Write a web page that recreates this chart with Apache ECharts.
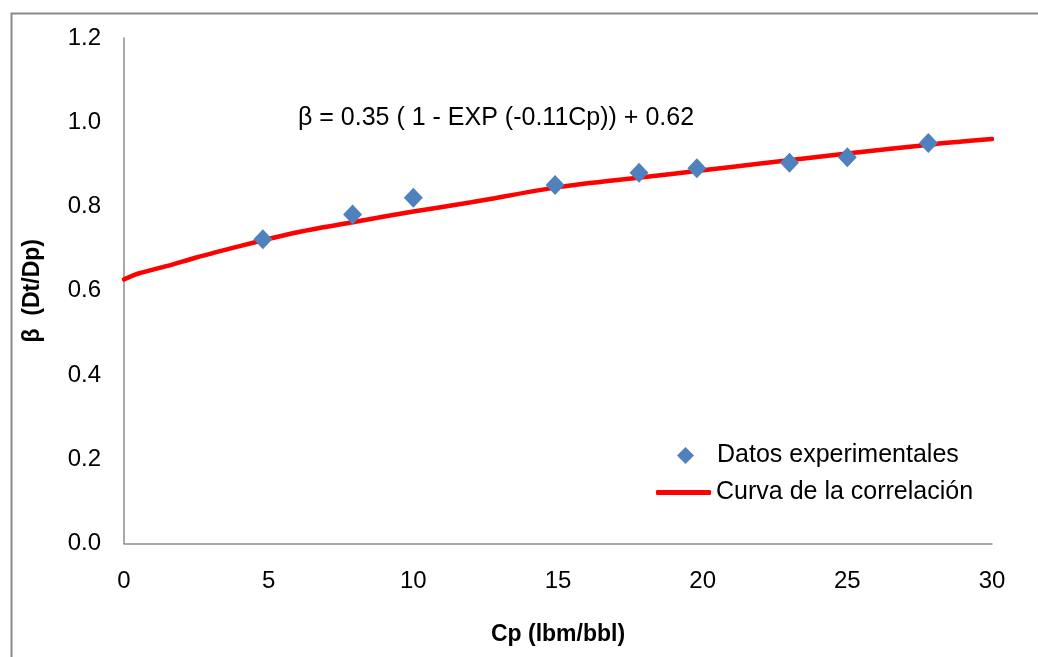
<!DOCTYPE html>
<html>
<head>
<meta charset="utf-8">
<script src="https://cdn.jsdelivr.net/npm/echarts@6/dist/echarts.min.js"></script>
<style>
  html, body { margin: 0; padding: 0; background: #fff; }
  #chart { width: 1038px; height: 657px; }
</style>
</head>
<body>
<div id="chart"></div>
<script>
// measured points (Cp, beta)
const expCp = [4.8, 7.9, 10.0, 14.9, 17.8, 19.8, 23.0, 25.0, 27.8];
const expBeta = [0.722, 0.781, 0.821, 0.851, 0.880, 0.891, 0.904, 0.917, 0.951];

// correlation curve
const curveCp = [0, 0.5, 1.5, 2.5, 4, 5, 6, 8, 10, 12, 15, 18, 20, 22, 25, 28, 30];
const curveBeta = [0.627, 0.641, 0.659, 0.679, 0.706, 0.723, 0.739, 0.764, 0.788, 0.810, 0.846, 0.870, 0.886, 0.902, 0.926, 0.948, 0.960];

const xTicks = [0, 5, 10, 15, 20, 25, 30];
const yTicks = [0.0, 0.2, 0.4, 0.6, 0.8, 1.0, 1.2];

const FONT = "'Liberation Sans', Arial, sans-serif";
const AXIS_GREY = "#8c8c8c";

const chart = echarts.init(document.getElementById("chart"));
chart.setOption({
  animation: false,
  textStyle: { fontFamily: FONT },
  grid: { left: 124, right: 46, top: 38, bottom: 113.5 },
  xAxis: {
    type: "value", min: xTicks[0], max: xTicks[xTicks.length - 1], interval: 5,
    name: "Cp (lbm/bbl)", nameLocation: "middle", nameGap: 80,
    nameTextStyle: { fontFamily: FONT, fontSize: 23, fontWeight: "bold", color: "#000" },
    axisLine: { lineStyle: { color: AXIS_GREY, width: 1.5 } },
    axisTick: { show: false }, splitLine: { show: false },
    axisLabel: { color: "#000", fontSize: 24, margin: 26, fontFamily: FONT }
  },
  yAxis: {
    type: "value", min: yTicks[0], max: yTicks[yTicks.length - 1], interval: 0.2,
    name: "β  (Dt/Dp)", nameLocation: "middle", nameGap: 80, nameRotate: 90,
    nameTextStyle: { fontFamily: FONT, fontSize: 23, fontWeight: "bold", color: "#000" },
    axisLine: { show: true, lineStyle: { color: AXIS_GREY, width: 1.5 } },
    axisTick: { show: false }, splitLine: { show: false },
    axisLabel: { color: "#000", fontSize: 24, margin: 23, fontFamily: FONT, formatter: (v) => v.toFixed(1) }
  },
  legend: [
    {
      data: ["Datos experimentales"], orient: "vertical", left: 672, top: 438,
      itemWidth: 17, itemHeight: 17,
      itemStyle: { opacity: 1 },
      textStyle: { fontFamily: FONT, fontSize: 25, color: "#000", padding: [0, 0, 0, 18] }
    },
    {
      data: [{ name: "Curva de la correlación", icon: "roundRect" }], orient: "vertical", left: 651, top: 475,
      itemWidth: 55, itemHeight: 5,
      textStyle: { fontFamily: FONT, fontSize: 25, color: "#000" }
    }
  ],
  graphic: [
    { type: "rect", left: 9, top: 11, shape: { width: 1060, height: 680 },
      style: { fill: "none", stroke: "#8a8a8a", lineWidth: 2 }, silent: true },
    { type: "text", left: 298, top: 106,
      style: { text: "β = 0.35 ( 1 - EXP (-0.11Cp)) + 0.62", fontFamily: FONT, fontSize: 25, fill: "#000" } }
  ],
  series: [
    {
      name: "Curva de la correlación", type: "line", z: 2,
      data: curveCp.map((c, i) => [c, curveBeta[i]]),
      symbol: "none", smooth: 0.3,
      lineStyle: { color: "#ff0000", width: 4.5, cap: "round" },
      itemStyle: { color: "#ff0000" }
    },
    {
      name: "Datos experimentales", type: "scatter", z: 3,
      data: expCp.map((c, i) => [c, expBeta[i]]),
      symbol: "diamond", symbolSize: [19, 20],
      itemStyle: { color: "#4f81bd", opacity: 1 }
    }
  ]
});
</script>
</body>
</html>
